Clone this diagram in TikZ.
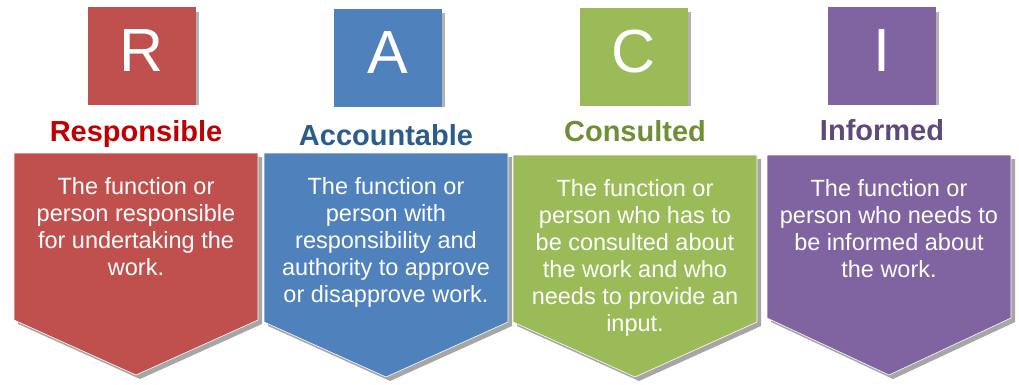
\documentclass[tikz,border=0pt]{standalone}
\usepackage{fontspec}
\setmainfont{Liberation Sans}

\definecolor{respfill}{HTML}{C0504D}
\definecolor{respdark}{HTML}{C00000}
\definecolor{accfill}{HTML}{4F81BD}
\definecolor{accdark}{HTML}{2B5C8E}
\definecolor{consfill}{HTML}{9BBB59}
\definecolor{consdark}{HTML}{6F8F34}
\definecolor{inffill}{HTML}{8064A2}
\definecolor{infdark}{HTML}{5F497A}

\begin{document}
\begin{tikzpicture}[
  x=1pt, y=-1pt,
  letterbox/.style={minimum width=108pt, minimum height=98pt, inner sep=0pt,
    text=white, text height=44pt, text depth=12pt,
    font=\fontsize{61}{61}\selectfont},
  boxshade/.style={fill=black!30},
  rolelbl/.style={anchor=base, inner sep=0pt, font=\fontsize{29}{30}\selectfont\bfseries},
  desc/.style={anchor=north, inner sep=0pt, align=center, text=white,
    font=\fontsize{23.5}{27}\selectfont},
  chevron/.style={draw=white, line width=0.6pt},
  chevshade/.style={fill=black!35},
]
\useasboundingbox (0,0) rectangle (1019,385);

% === Panel R: Responsible ===
\begin{scope}[shift={(136,0)}]
  \fill[boxshade] (58,12) rectangle (63,105);
  \node[letterbox, fill=respfill] (R) at (6,56) {R};
  \node[rolelbl, text=respdark] (Rlbl) at (0,142) {Responsible};

  % chevron body with shadow
  \fill[chevshade] (-118,157) -- (126,157) -- (126,324) -- (4,379) -- (-118,324) -- cycle;
  \draw[chevron, fill=respfill] (-122,153) -- (122,153) -- (122,320) -- (0,375) -- (-122,320) -- cycle;
  \node[desc] (Rtxt) at (0,177) {The function or\\person responsible\\for undertaking the\\work.};
\end{scope}

% === Panel A: Accountable ===
\begin{scope}[shift={(386,0)}]
  \fill[boxshade] (54,13) rectangle (59,107);
  \node[letterbox, fill=accfill] (A) at (2,58) {A};
  \node[rolelbl, text=accdark] (Albl) at (0,145) {Accountable};

  % chevron body with shadow
  \fill[chevshade] (-118,157) -- (126,157) -- (126,326) -- (4,381) -- (-118,326) -- cycle;
  \draw[chevron, fill=accfill] (-122,153) -- (122,153) -- (122,322) -- (0,377) -- (-122,322) -- cycle;
  \node[desc] (Atxt) at (0,177) {The function or\\person with\\responsibility and\\authority to approve\\or disapprove work.};
\end{scope}

% === Panel C: Consulted ===
\begin{scope}[shift={(635,0)}]
  \fill[boxshade] (51,12) rectangle (56,106);
  \node[letterbox, fill=consfill] (C) at (-1,57) {C};
  \node[rolelbl, text=consdark] (Clbl) at (0,142) {Consulted};

  % chevron body with shadow
  \fill[chevshade] (-118,159) -- (126,159) -- (126,326) -- (4,381) -- (-118,326) -- cycle;
  \draw[chevron, fill=consfill] (-122,155) -- (122,155) -- (122,322) -- (0,377) -- (-122,322) -- cycle;
  \node[desc] (Ctxt) at (0,179) {The function or\\person who has to\\be consulted about\\the work and who\\needs to provide an\\input.};
\end{scope}

% === Panel I: Informed ===
\begin{scope}[shift={(889,0)}]
  \fill[boxshade] (45,12) rectangle (50,105);
  \node[letterbox, fill=inffill] (I) at (-7,56) {I};
  \node[rolelbl, text=infdark] (Ilbl) at (-7,140) {Informed};

  % chevron body with shadow
  \fill[chevshade] (-118,159) -- (126,159) -- (126,322) -- (4,379) -- (-118,322) -- cycle;
  \draw[chevron, fill=inffill] (-122,155) -- (122,155) -- (122,318) -- (0,375) -- (-122,318) -- cycle;
  \node[desc] (Itxt) at (0,179) {The function or\\person who needs to\\be informed about\\the work.};
\end{scope}

\end{tikzpicture}
\end{document}
